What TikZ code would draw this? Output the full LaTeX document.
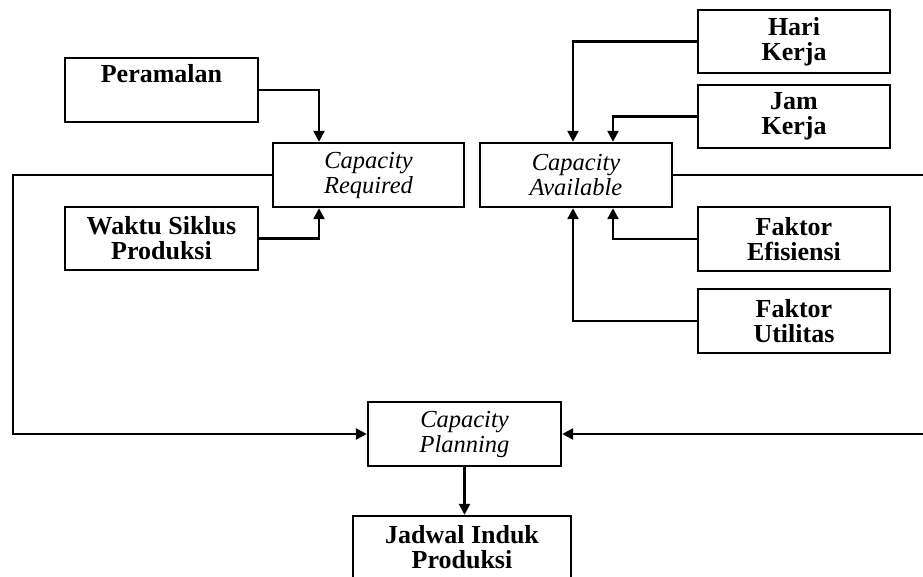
\documentclass[tikz,border=0pt]{standalone}
\usepackage{fontspec}
\setmainfont{Liberation Serif}
\usetikzlibrary{arrows.meta}
\begin{document}
\begin{tikzpicture}[x=1pt,y=-1pt,
  box/.style={draw,line width=2.4pt,rectangle,minimum width=193pt,minimum height=64pt,inner sep=0pt,align=center,font=\fontsize{26}{25}\selectfont\bfseries},
  ibox/.style={box,font=\fontsize{24.5}{25}\selectfont\itshape},
  line/.style={line width=2.4pt},
  arr/.style={line,-{Triangle[length=11pt,width=11pt]}}]
\useasboundingbox (0,0) rectangle (923,577);
\clip (0,0) rectangle (923,577);
\fill[white] (0,0) rectangle (923,577);
% left group
\node[box] (per) at (161.5,90) {Peramalan\\ \strut};
\node[ibox,minimum width=191pt] (cr) at (368.5,175) {Capacity\\Required};
\node[box,minimum height=63pt] (wak) at (161.5,238.5) {Waktu Siklus\\Produksi};
% right group
\node[ibox,minimum width=192pt] (ca) at (576,175) {Capacity\\Available};
\node[box,minimum width=192pt,minimum height=63pt] (hari) at (794,41.5) {Hari\\Kerja};
\node[box,minimum width=192pt,minimum height=63pt] (jam) at (794,116.5) {Jam\\Kerja};
\node[box,minimum width=192pt] (eff) at (794,239) {Faktor\\Efisiensi};
\node[box,minimum width=192pt] (util) at (794,321) {Faktor\\Utilitas};
% bottom
\node[ibox] (cp) at (464.5,434) {Capacity\\Planning};
\node[box,minimum width=218pt,minimum height=63pt] (jip) at (462,547.5) {Jadwal Induk\\Produksi};
% connectors
\draw[arr] (per.east) -| ([xshift=-49.5pt]cr.north);
\draw[arr] (wak.east) -| ([xshift=-49.5pt]cr.south);
\draw[arr] (hari.west) -| ([xshift=-3pt]ca.north);
\draw[arr] (jam.west) -| ([xshift=37pt]ca.north);
\draw[arr] (eff.west) -| ([xshift=37pt]ca.south);
\draw[arr] (util.west) -| ([xshift=-3pt]ca.south);
\coordinate (lc) at (13,175);
\coordinate (rc) at (928,175);
\draw[arr] (cr.west) -- (lc) |- (cp.west);
\draw[arr] (ca.east) -- (rc) |- (cp.east);
\draw[arr] (cp.south) -- (cp.south |- jip.north);
\end{tikzpicture}
\end{document}
